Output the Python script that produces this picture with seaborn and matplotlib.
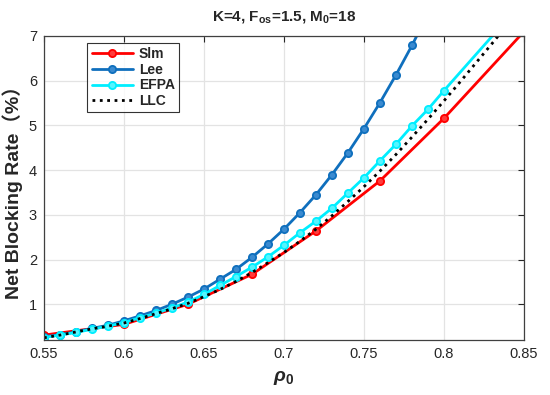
import numpy as np
import pandas as pd
import matplotlib
matplotlib.use("Agg")
import matplotlib.pyplot as plt
import seaborn as sns

# data
rho_slm = [0.55, 0.60, 0.64, 0.68, 0.72, 0.76, 0.80, 0.85]
slm = [0.31, 0.55, 1.00, 1.67, 2.64, 3.76, 5.16, 7.10]

rho_lee = [0.55, 0.56, 0.57, 0.58, 0.59, 0.60, 0.61, 0.62, 0.63, 0.64, 0.65, 0.66,
           0.67, 0.68, 0.69, 0.70, 0.71, 0.72, 0.73, 0.74, 0.75, 0.76, 0.77, 0.78, 0.79]
lee = [0.27, 0.32, 0.38, 0.46, 0.53, 0.63, 0.74, 0.86, 1.00, 1.16, 1.34, 1.56,
       1.78, 2.05, 2.35, 2.68, 3.05, 3.45, 3.90, 4.39, 4.93, 5.51, 6.13, 6.79, 7.50]

rho_efpa = [0.55, 0.56, 0.57, 0.58, 0.59, 0.60, 0.61, 0.62, 0.63, 0.64, 0.65, 0.66,
            0.67, 0.68, 0.69, 0.70, 0.71, 0.72, 0.73, 0.74, 0.75, 0.76, 0.77, 0.78,
            0.79, 0.80, 0.85]
efpa = [0.255, 0.31, 0.37, 0.44, 0.51, 0.59, 0.70, 0.80, 0.92, 1.05, 1.22, 1.42,
        1.62, 1.83, 2.06, 2.32, 2.60, 2.86, 3.15, 3.49, 3.83, 4.21, 4.58, 4.99,
        5.36, 5.78, 7.80]

rho_llc = [0.55, 0.56, 0.57, 0.58, 0.59, 0.60, 0.61, 0.62, 0.63, 0.64, 0.65, 0.66,
           0.67, 0.68, 0.69, 0.70, 0.71, 0.72, 0.73, 0.74, 0.75, 0.76, 0.77, 0.78,
           0.79, 0.80, 0.81, 0.82, 0.83, 0.84, 0.85]
llc = [0.25, 0.31, 0.38, 0.45, 0.51, 0.58, 0.68, 0.79, 0.90, 1.02, 1.17, 1.33,
       1.51, 1.71, 1.93, 2.16, 2.41, 2.68, 2.98, 3.30, 3.63, 3.98, 4.35, 4.74,
       5.14, 5.55, 5.97, 6.40, 6.83, 7.27, 7.72]

x_ticks = [0.55, 0.6, 0.65, 0.7, 0.75, 0.8, 0.85]
x_labels = ["0.55", "0.6", "0.65", "0.7", "0.75", "0.8", "0.85"]
y_ticks = [1, 2, 3, 4, 5, 6, 7]

sns.set_style("whitegrid")
plt.rcParams["font.family"] = ["Liberation Sans", "Noto Sans CJK SC", "DejaVu Sans"]
plt.rcParams["mathtext.fontset"] = "custom"
plt.rcParams["mathtext.rm"] = "Liberation Sans:bold"
plt.rcParams["mathtext.it"] = "Liberation Sans:italic:bold"
plt.rcParams["mathtext.bf"] = "Liberation Sans:bold"

fig = plt.figure(figsize=(5.5, 3.95), dpi=100)
ax = fig.add_axes([44 / 550, 1 - 340 / 395, 480 / 550, 304 / 395])

blue = "#0f6fbd"
series = [
    ("Slm", rho_slm, slm, "#ff0000", "#ff3b3b", "-", "o"),
    ("Lee", rho_lee, lee, blue, "#3a8ad0", "-", "o"),
    ("EFPA", rho_efpa, efpa, "#00eeff", "#55f5ff", "-", "o"),
    ("LLC", rho_llc, llc, "black", "black", ":", None),
]

for name, xs, ys, col, face, ls, mk in series:
    df = pd.DataFrame({"rho": xs, "val": ys})
    kw = dict(marker=mk, markersize=5.2, markeredgecolor=col,
              markerfacecolor=face, markeredgewidth=1.3) if mk else {}
    sns.lineplot(data=df, x="rho", y="val", ax=ax, color=col, linestyle=ls,
                 linewidth=2.0, label=name, sort=False, estimator=None, **kw)

ax.set_xlim(0.55, 0.85)
ax.set_ylim(0.2, 7)
ax.set_xticks(x_ticks)
ax.set_xticklabels(x_labels)
ax.set_yticks(y_ticks)
ax.tick_params(axis="both", labelsize=10.5, colors="#262626", direction="in",
               length=4, top=True, right=True)
ax.tick_params(axis="both", pad=5)
ax.grid(True, color="#e3e3e3", linewidth=0.9)
for sp in ax.spines.values():
    sp.set_color("#404040")
    sp.set_linewidth(0.9)

ax.set_xlabel(r"$\rho_\mathrm{0}$", fontsize=14, labelpad=6)
ax.set_ylabel("Net Blocking Rate（%）", fontsize=14, fontweight="bold", labelpad=4)
ax.set_title(r"K=4, F$_\mathrm{os}$=1.5, M$_\mathrm{0}$=18", fontsize=11,
             fontweight="bold", pad=11)

leg = ax.legend(loc="upper left", bbox_to_anchor=(0.076, 1.0), frameon=True,
                fancybox=False, edgecolor="black", fontsize=10,
                prop={"weight": "bold", "size": 10}, handlelength=3.0,
                borderpad=0.3, labelspacing=0.12, handletextpad=0.4)
leg.get_frame().set_linewidth(0.8)

fig.savefig("out.png", dpi=100)
